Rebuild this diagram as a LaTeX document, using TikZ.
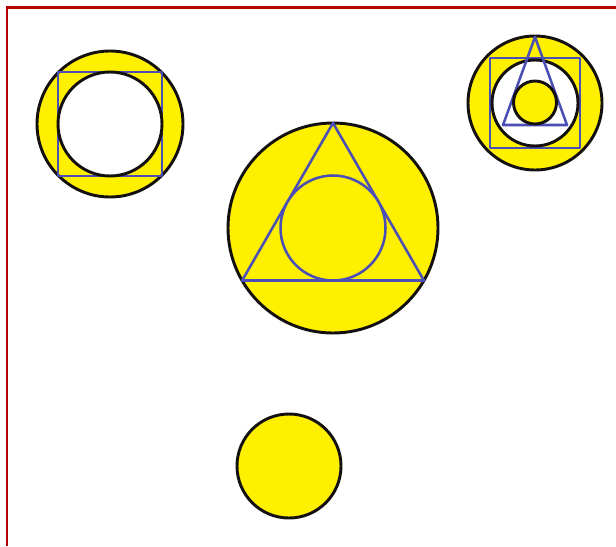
\documentclass[tikz,border=0pt]{standalone}
\usepackage{tikz}
\usepackage{xcolor}
\usetikzlibrary{calc}
\definecolor{FrameInk}{HTML}{B20000}
\definecolor{DiscFill}{HTML}{FFF000}
\definecolor{RimInk}{HTML}{151010}
\definecolor{LineInk}{HTML}{4B4FB5}

\begin{document}
\begin{tikzpicture}[x=0.75pt, y=-0.75pt,
  disc/.style={draw=RimInk, fill=DiscFill, line width=2.2pt},
  hole/.style={draw=RimInk, fill=white, line width=2.2pt},
  guide/.style={draw=LineInk, line width=1.9pt, line join=round}]
\useasboundingbox (0,0) rectangle (616,546);
% frame
\draw[FrameInk, line width=2.2pt] (7,546) -- (7,7.5) -- (616,7.5);
% top left: circle, square, circle
\coordinate (tl) at (110,124);
\draw[disc] (tl) circle[radius=73];
\draw[guide] ($(tl)+(-52,-52)$) rectangle ($(tl)+(52,52)$);
\draw[hole] (tl) circle[radius=52];
% centre: circle, triangle, circle
\coordinate (mc) at (333,228);
\draw[disc] (mc) circle[radius=105];
\draw[guide] ($(mc)+(0,-105)$) -- ($(mc)+(-90.9,52.5)$) -- ($(mc)+(90.9,52.5)$) -- cycle;
\draw[guide, fill=DiscFill] (mc) circle[radius=52.5];
% bottom
\coordinate (bc) at (289,466);
\draw[disc] (bc) circle[radius=52];
% top right: all together
\coordinate (tr) at (535,103);
\draw[disc] (tr) circle[radius=67];
\draw[guide] ($(tr)+(-45,-45)$) rectangle ($(tr)+(45,45)$);
\draw[hole] (tr) circle[radius=43];
\draw[guide] ($(tr)+(0,-66)$) -- ($(tr)+(-32,22)$) -- ($(tr)+(32,22)$) -- cycle;
\draw[disc] ($(tr)+(0,-0.5)$) circle[radius=21.5];
\end{tikzpicture}
\end{document}
